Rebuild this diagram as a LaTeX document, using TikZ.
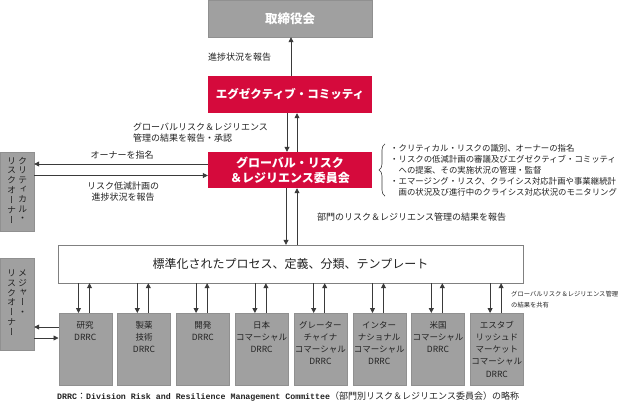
\documentclass[tikz,border=0pt]{standalone}
\usepackage{fontspec}
\setmainfont{Noto Sans CJK JP}
\newfontfamily\tatefont[RawFeature=+vert]{Noto Sans CJK JP}
\newfontfamily\latinmono{Liberation Mono}
\usetikzlibrary{arrows.meta,decorations.pathreplacing}
\definecolor{grcred}{HTML}{D50A3C}
\definecolor{boxgray}{HTML}{A0A0A0}
\definecolor{linegray}{HTML}{3A3A3A}
\definecolor{textgray}{HTML}{222222}
\newcommand{\tate}[1]{\begin{tabular}[t]{@{}c@{}}#1\end{tabular}}

\begin{document}
\begin{tikzpicture}[x=1pt, y=-1pt, text=textgray,
  gbox/.style={draw=boxgray!90!black, fill=boxgray, inner sep=0pt},
  rbox/.style={fill=grcred, text=white, inner sep=0pt, minimum width=164pt, minimum height=37pt},
  drrc/.style={gbox, anchor=north west, minimum width=53pt, minimum height=72pt, font=\fontsize{8.5}{12.2}\selectfont},
  lbl/.style={inner sep=0pt, font=\fontsize{9}{10.5}\selectfont},
  arr/.style={draw=linegray, line width=0.8pt, -{Triangle[length=5pt,width=5pt]}}]
  \useasboundingbox (0,0) rectangle (620,402);

  % top of the chain
  \node[gbox, minimum width=164pt, minimum height=37pt, text=white, font=\fontsize{12.5}{14}\selectfont\bfseries] (board) at (290,18.5) {取締役会};
  \node[rbox, font=\fontsize{11.5}{14}\selectfont\bfseries] (exec) at (290,94.5) {エグゼクティブ・コミッティ};
  \node[rbox, minimum height=36pt, align=center, font=\fontsize{12}{15}\selectfont\bfseries] (grc) at (290,170) {グローバル・リスク\\＆レジリエンス委員会};
  \node[draw=gray, fill=white, minimum width=465pt, minimum height=38pt, font=\fontsize{12}{14}\selectfont] (std) at (290.5,264) {標準化されたプロセス、定義、分類、テンプレート};

  % risk owners
  \node[gbox, minimum width=34pt, minimum height=79pt, font=\fontsize{9}{9.6}\selectfont\tatefont] (crit) at (17,191.5)
    {\tate{リ\\ス\\ク\\オ\\ー\\ナ\\ー}\hspace{2pt}\tate{ク\\リ\\テ\\ィ\\カ\\ル\\・}};
  \node[gbox, minimum width=34pt, minimum height=92pt, font=\fontsize{9}{9.7}\selectfont\tatefont] (major) at (17,304)
    {\tate{リ\\ス\\ク\\オ\\ー\\ナ\\ー}\hspace{2pt}\tate{メ\\ジ\\ャ\\ー\\・}};

  % division committees
  \foreach \lbl [count=\i from 0] in {{研究\\DRRC},{製薬\\技術\\DRRC},{開発\\DRRC},{日本\\コマーシャル\\DRRC},
      {グレーター\\チャイナ\\コマーシャル\\DRRC},{インター\\ナショナル\\コマーシャル\\DRRC},
      {米国\\コマーシャル\\DRRC},{エスタブ\\リッシュド\\マーケット\\コマーシャル\\DRRC}}
  {
    \node[drrc] (d\i) at ({58.5+58.8*\i},313) {\parbox[c][72pt][t]{53pt}{\centering\rule{0pt}{15pt}\lbl}};
    \draw[arr] ([xshift=20pt]d\i.north west |- std.south) -- ([xshift=20pt]d\i.north west);
    \draw[arr] ([xshift=31pt]d\i.north west) -- ([xshift=31pt]d\i.north west |- std.south);
  }

  % reporting lines
  \draw[arr] ([xshift=1pt]exec.north) -- ([xshift=1pt]board.south);
  \draw[arr] ([xshift=-3pt]exec.south) -- ([xshift=-3pt]grc.north);
  \draw[arr] ([xshift=7pt]grc.north) -- ([xshift=7pt]exec.south);
  \draw[arr] ([xshift=-4pt]grc.south) -- ([xshift=-4pt]grc.south |- std.north);
  \draw[arr] ([xshift=7pt]grc.south |- std.north) -- ([xshift=7pt]grc.south);
  \draw[arr] ([yshift=6pt]grc.west) -- ([yshift=6pt]grc.west -| crit.east);
  \draw[arr] ([yshift=-5.5pt]grc.west -| crit.east) -- ([yshift=-5.5pt]grc.west);
  \draw[arr] ([yshift=-14pt]d0.north west) -- ([yshift=-14pt]d0.north west -| major.east);
  \draw[arr] ([yshift=-25pt]d0.north west -| major.east) -- ([yshift=-25pt]d0.north west);

  % labels
  \node[lbl, anchor=west] (prog1) at (208,57) {進捗状況を報告};
  \node[lbl, anchor=west, align=left] (appr) at (133,132.5) {グローバルリスク＆レジリエンス\\管理の結果を報告・承認};
  \node[lbl] (nom) at (122,155) {オーナーを指名};
  \node[lbl, align=center] (prog2) at (123,191.5) {リスク低減計画の\\進捗状況を報告};
  \node[lbl, anchor=west] (drep) at (317,217) {部門のリスク＆レジリエンス管理の結果を報告};
  \node[inner sep=0pt, anchor=west, align=left, font=\fontsize{8.4}{11}\selectfont] (roles) at (390,170)
    {・クリティカル・リスクの識別、オーナーの指名\\
     ・リスクの低減計画の審議及びエグゼクティブ・コミッティ\\
     \hspace*{1em}への提案、その実施状況の管理・監督\\
     ・エマージング・リスク、クライシス対応計画や事業継続計\\
     \hspace*{1em}画の状況及び進行中のクライシス対応状況のモニタリング};
  \draw[linegray, line width=0.6pt, decorate, decoration={brace, amplitude=6pt}]
    ([xshift=-5pt]roles.south west) -- ([xshift=-5pt]roles.north west);
  \node[inner sep=0pt, anchor=west, align=left, font=\fontsize{6.3}{10.5}\selectfont] (share) at (511,299.5)
    {グローバルリスク＆レジリエンス管理\\の結果を共有};
  \node[inner sep=0pt, anchor=west, font=\fontsize{9}{10}\selectfont] (note) at (57,397)
    {{\latinmono\bfseries\fontsize{8.3}{10}\selectfont DRRC}：{\latinmono\bfseries\fontsize{8.3}{10}\selectfont Division Risk and Resilience Management Committee}（部門別リスク＆レジリエンス委員会）の略称};
\end{tikzpicture}
\end{document}
